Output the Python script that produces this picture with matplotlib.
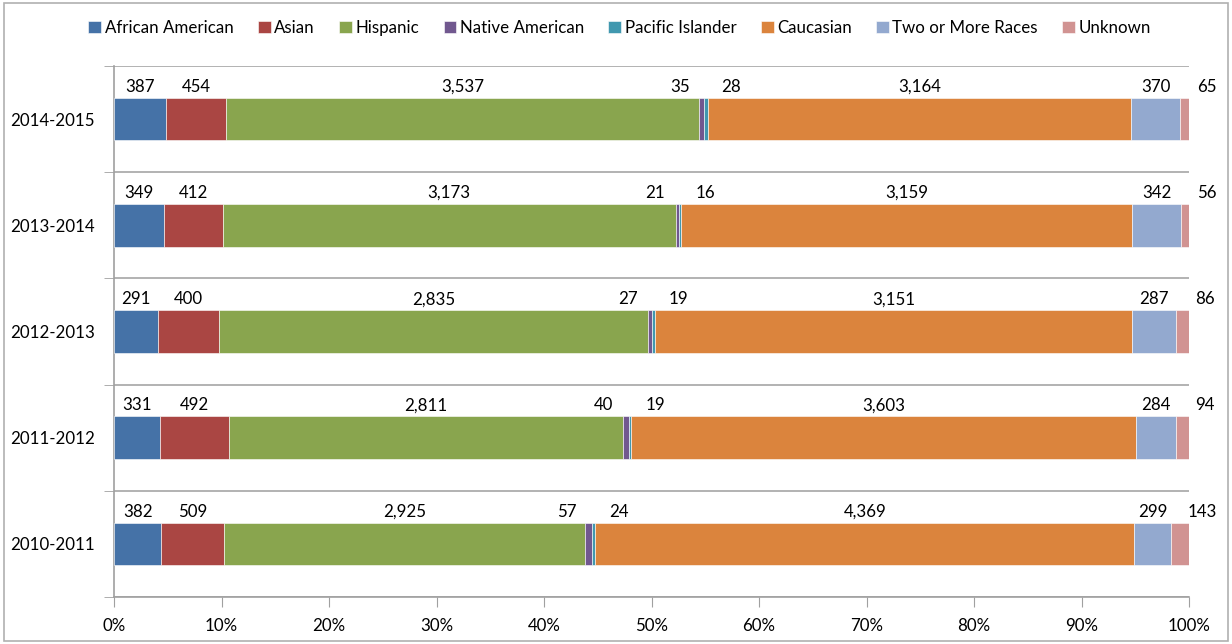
import matplotlib
matplotlib.use("Agg")
import matplotlib.pyplot as plt
import matplotlib.patches as patches
import numpy as np

plt.rcParams['font.family'] = ['Lato', 'DejaVu Sans']

# school years, bottom to top
years = ['2010-2011', '2011-2012', '2012-2013', '2013-2014', '2014-2015']
groups = ['African American', 'Asian', 'Hispanic', 'Native American',
          'Pacific Islander', 'Caucasian', 'Two or More Races', 'Unknown']
african_american = [382, 331, 291, 349, 387]
asian = [509, 492, 400, 412, 454]
hispanic = [2925, 2811, 2835, 3173, 3537]
native_american = [57, 40, 27, 21, 35]
pacific_islander = [24, 19, 19, 16, 28]
caucasian = [4369, 3603, 3151, 3159, 3164]
two_or_more = [299, 284, 287, 342, 370]
unknown = [143, 94, 86, 56, 65]

colors = ['#4572A7', '#AA4643', '#89A54E', '#71588F',
          '#4198AF', '#DB843D', '#93A9CF', '#D19392']

data = np.array([african_american, asian, hispanic, native_american,
                 pacific_islander, caucasian, two_or_more, unknown], dtype=float)
pct = data / data.sum(axis=0) * 100

# label shift in pixels for the thin segments
shift = {3: -22, 4: 25, 7: 22}
fs = 12.2

fig = plt.figure(figsize=(12.32, 6.44), dpi=100)
ax = fig.add_axes([114/1232, 1-597/644, (1189-114)/1232, (597-66)/644])

y = np.arange(len(years))
left = np.zeros(len(years))
h = 0.4
for k, g in enumerate(groups):
    ax.barh(y, pct[k], left=left, height=h, color=colors[k], label=g,
            edgecolor='white', linewidth=0.4, zorder=3)
    for i in range(len(years)):
        xc = left[i] + pct[k][i]/2
        ax.annotate(f"{int(data[k][i]):,}", (xc, y[i] + h/2),
                    xytext=(shift.get(k, 0), 3), textcoords='offset pixels',
                    ha='center', va='bottom', fontsize=fs, color='black')
    left += pct[k]

ax.set_xlim(0, 100)
ax.set_ylim(-0.5, len(years) - 0.5)
ax.set_xticks(np.arange(0, 101, 10))
ax.set_xticklabels([f"{v}%" for v in range(0, 101, 10)], fontsize=fs)
ax.set_yticks(y)
ax.set_yticklabels(years, fontsize=fs)
ax.set_yticks(np.arange(-0.5, len(years)), minor=True)
ax.tick_params(axis='y', which='major', length=0, pad=14)
ax.tick_params(axis='y', which='minor', length=7, color='#a0a0a0')
ax.tick_params(axis='x', length=7, color='#a0a0a0', pad=8)
ax.grid(True, axis='y', which='minor', color='#a6a6a6', linewidth=1.2, zorder=0)

for s in ['top', 'right']:
    ax.spines[s].set_visible(False)
for s in ['left', 'bottom']:
    ax.spines[s].set_color('#a0a0a0')
    ax.spines[s].set_linewidth(1.2)

fig.legend(loc='center', bbox_to_anchor=(0.503, 1-28/644), ncol=8,
           frameon=False, fontsize=fs, handlelength=0.75, handleheight=0.75,
           handletextpad=0.2, columnspacing=1.45)

fig.patches.append(patches.Rectangle((0.003, 0.004), 0.994, 0.992,
                   transform=fig.transFigure, fill=False,
                   edgecolor='#b0b0b0', linewidth=1.2))

fig.savefig("out.png", dpi=100)
